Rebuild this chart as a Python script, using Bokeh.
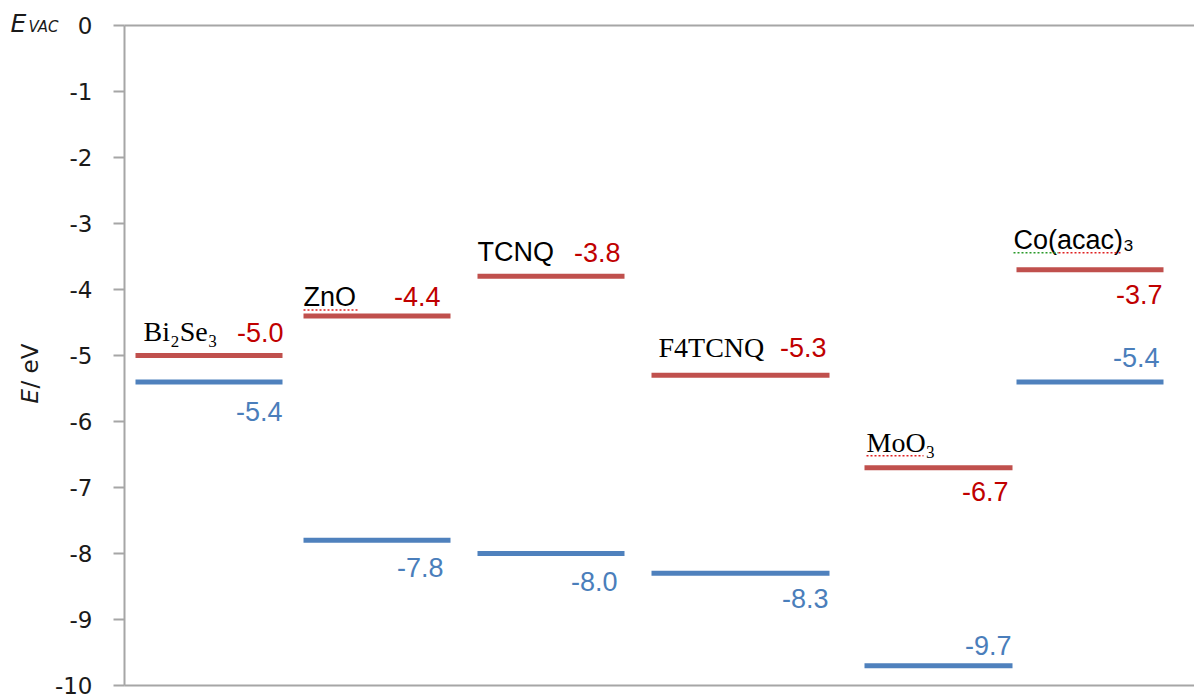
import math

from bokeh.core.properties import value
from bokeh.embed import file_html
from bokeh.models import ColumnDataSource, FixedTicker, Label, Range1d
from bokeh.plotting import figure
from bokeh.resources import INLINE

# ---- data: frontier energy levels (eV, relative to vacuum) ----
materials = ["Bi₂Se₃", "ZnO", "TCNQ", "F4TCNQ", "MoO₃", "Co(acac)₃"]
upper_levels = [-5.0, -4.4, -3.8, -5.3, -6.7, -3.7]   # red levels
lower_levels = [-5.4, -7.8, -8.0, -8.3, -9.7, -5.4]   # blue levels
y_ticks = [0, -1, -2, -3, -4, -5, -6, -7, -8, -9, -10]
y_tick_labels = ["0", "-1", "-2", "-3", "-4", "-5", "-6", "-7", "-8", "-9", "-10"]

# ---- layout: horizontal extent of each level bar and label placement ----
# (x measured in pixels to the right of the energy axis,
#  dy = baseline distance from the bar in pixels, positive = below)
bar_left = [11, 179, 353, 527, 740, 892]
bar_right = [158, 326, 500, 705, 888, 1039]
name_x = [19, 179, 353, 534, 742, 889]
name_dy = [-15, -10, -15, -19, -16, -21]
name_serif = [True, False, False, True, True, False]
upper_label_x = [159, 316, 496, 702, 884, 1038]
upper_label_dy = [-14, -10, -15, -19, 33, 34]
lower_label_x = [158, 319, 493, 704, 887, 1035]
lower_label_dy = [39, 36, 37, 34, -11, -15]

# proofing underlines beneath some names: (material index, x0, x1, colour)
underlines = [(1, 179, 234, "#e02020"), (4, 742, 799, "#e02020"),
              (5, 889, 934, "#2a9a2a"), (5, 934, 996, "#e02020")]

RED_LINE = "#c0504d"
BLUE_LINE = "#4f81bd"
RED_TEXT = "#c00000"
BLUE_TEXT = "#4a7ebb"
AXIS_GREY = "#a6a6a6"
INK = "#1a1a1a"

W, H = 1194, 698
AXIS_X = 124           # canvas x of the energy axis
TOP, BOTTOM = 25, 685  # canvas y of 0 eV and -10 eV
PX_PER_EV = (BOTTOM - TOP) / 10
BASELINE_FIX = -9      # the rendered alphabetic baseline sits this much low

# the frame fills the whole canvas; the energy axis sits at x = 0
p = figure(
    width=W, height=H,
    x_range=Range1d(-AXIS_X, W - AXIS_X),
    y_range=Range1d(-10 - (H - BOTTOM) / PX_PER_EV, TOP / PX_PER_EV),
    output_backend="svg", toolbar_location=None,
    min_border=0,
)
p.outline_line_color = None
p.xgrid.visible = False
p.ygrid.visible = False
p.xaxis.visible = False
p.background_fill_color = "white"
p.border_fill_color = "white"

ya = p.yaxis[0]
ya.fixed_location = 0
ya.bounds = (-10, 0)
ya.ticker = FixedTicker(ticks=y_ticks)
ya.major_label_overrides = {t: s for t, s in zip(y_ticks, y_tick_labels)}
ya.major_tick_out = 11
ya.major_tick_in = 0
ya.minor_tick_out = 0
ya.minor_tick_in = 0
ya.major_tick_line_color = AXIS_GREY
ya.major_tick_line_width = 2
ya.axis_line_color = AXIS_GREY
ya.axis_line_width = 2
ya.major_label_standoff = 21
ya.major_label_text_font = "DejaVu Sans"
ya.major_label_text_font_size = "23px"
ya.major_label_text_color = INK

# horizontal rules at the vacuum level (0 eV) and at -10 eV
p.segment(x0=[0, 0], y0=[0, -10], x1=[W - AXIS_X] * 2, y1=[0, -10],
          line_color=AXIS_GREY, line_width=2)

# energy level bars
upper_src = ColumnDataSource(dict(x0=bar_left, x1=bar_right, y=upper_levels))
lower_src = ColumnDataSource(dict(x0=bar_left, x1=bar_right, y=lower_levels))
p.segment(x0="x0", y0="y", x1="x1", y1="y", source=upper_src,
          line_color=RED_LINE, line_width=5, line_cap="butt")
p.segment(x0="x0", y0="y", x1="x1", y1="y", source=lower_src,
          line_color=BLUE_LINE, line_width=5, line_cap="butt")

# numeric labels for each level
upper_txt = ColumnDataSource(dict(
    x=upper_label_x, y=upper_levels,
    dy=[d + BASELINE_FIX for d in upper_label_dy],
    t=[f"{v:.1f}" for v in upper_levels]))
lower_txt = ColumnDataSource(dict(
    x=lower_label_x, y=lower_levels,
    dy=[d + BASELINE_FIX for d in lower_label_dy],
    t=[f"{v:.1f}" for v in lower_levels]))
for src, col in ((upper_txt, RED_TEXT), (lower_txt, BLUE_TEXT)):
    p.text(x="x", y="y", text="t", y_offset="dy", source=src,
           text_align="right", text_baseline="alphabetic",
           text_font=value("Liberation Sans"), text_font_size="27px",
           text_color=col)

# material names above the upper level
name_src = ColumnDataSource(dict(
    x=name_x, y=upper_levels, dy=[d + BASELINE_FIX for d in name_dy],
    t=materials,
    font=["Liberation Serif" if s else "Liberation Sans" for s in name_serif],
    size=["28px" if s else "27px" for s in name_serif]))
p.text(x="x", y="y", text="t", y_offset="dy", source=name_src,
       text_align="left", text_baseline="alphabetic",
       text_font="font", text_font_size="size", text_color="black")

# dotted proofing marks just under the names
ul_y = [upper_levels[i] - (name_dy[i] + 4) / PX_PER_EV for i, *_ in underlines]
p.segment(x0=[u[1] for u in underlines], x1=[u[2] for u in underlines],
          y0=ul_y, y1=ul_y, line_color=[u[3] for u in underlines],
          line_width=1.5, line_dash="2 2")


def canvas_label(px, py, text, **kw):
    """Text anchored at canvas pixel (px, py), measured from the top-left."""
    p.add_layout(Label(x=px, y=H - py, x_units="screen", y_units="screen",
                       text=text, text_font="DejaVu Sans",
                       text_baseline="alphabetic", text_color=INK, **kw))


# vacuum level marker next to the 0 eV tick
canvas_label(10, 32 + BASELINE_FIX, "E", text_font_style="italic",
             text_font_size="25px")
canvas_label(28, 35 + BASELINE_FIX, "VAC", text_font_style="italic",
             text_font_size="15px")

# rotated axis title "E/ eV"
canvas_label(38 + BASELINE_FIX, 403, "E", angle=math.pi / 2,
             text_font_style="italic", text_font_size="23px")
canvas_label(38 + BASELINE_FIX, 388, "/ eV", angle=math.pi / 2,
             text_font_size="23px")

open("out.html", "w").write(file_html(p, INLINE))
